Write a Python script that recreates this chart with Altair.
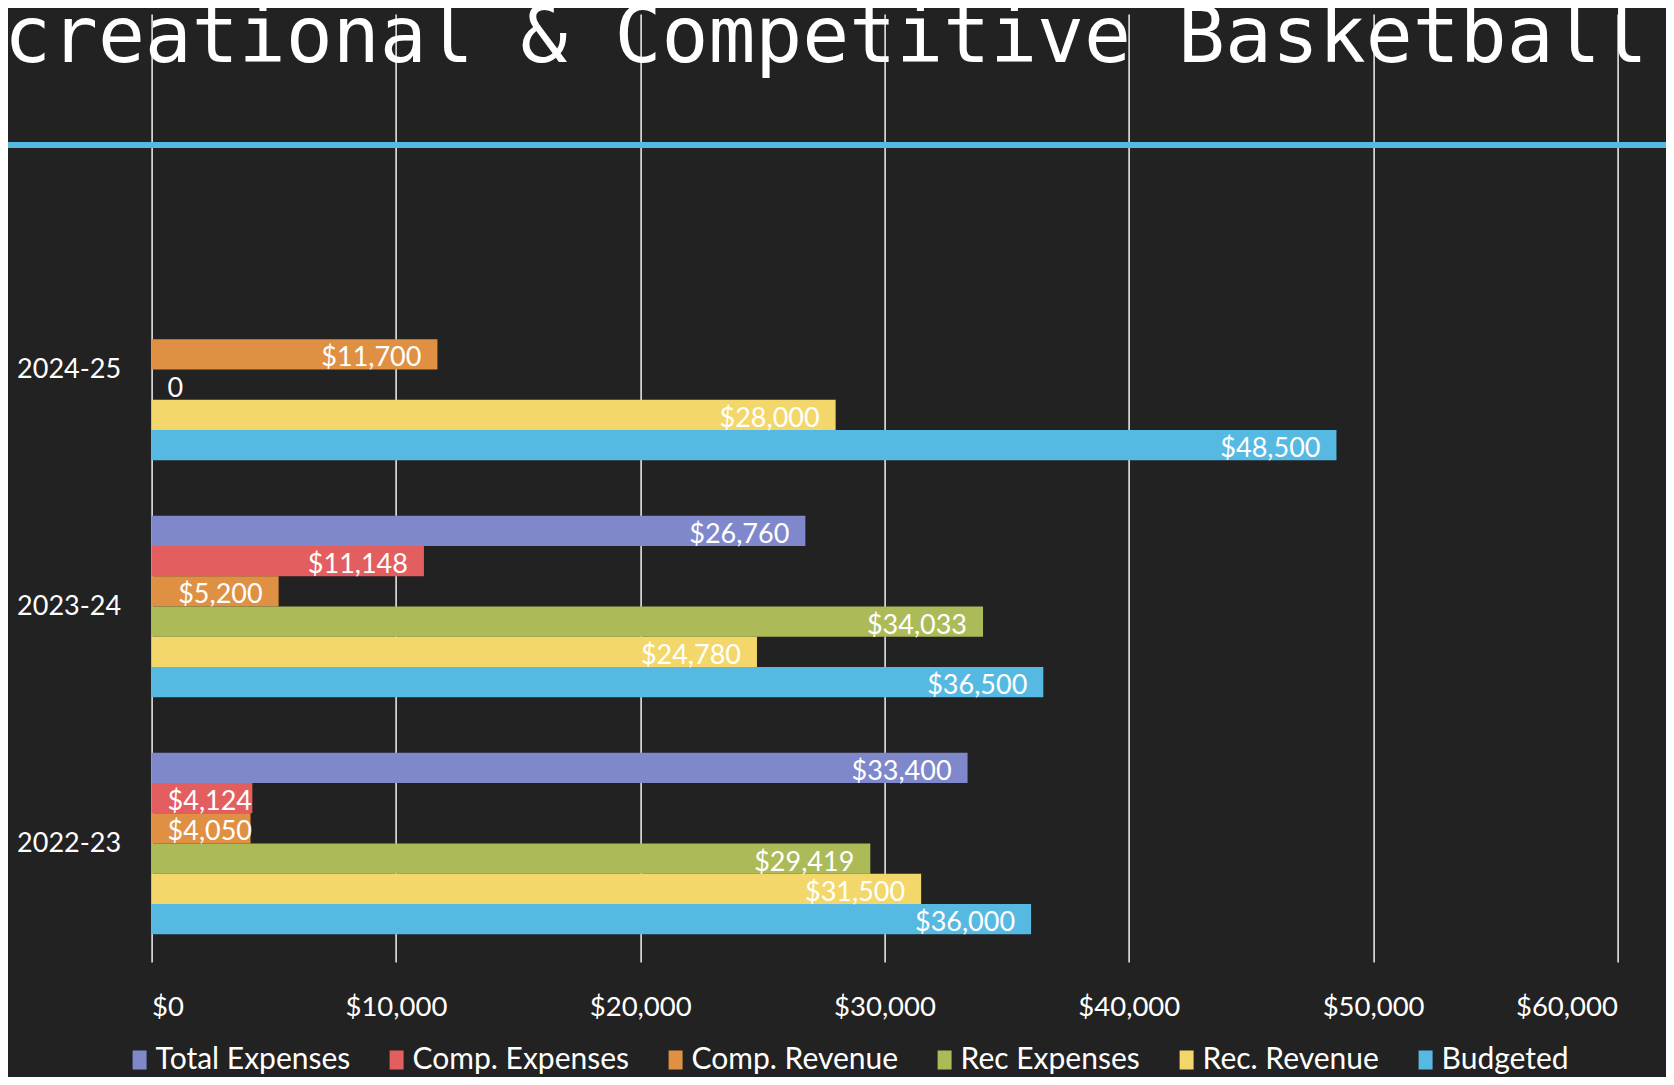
import altair as alt
import pandas as pd

# ---- data ----
years = ["2024-25", "2023-24", "2022-23"]
series = ["Total Expenses", "Comp. Expenses", "Comp. Revenue", "Rec Expenses", "Rec. Revenue", "Budgeted"]
colors = ["#8088CC", "#E35E5F", "#E09043", "#ACBA58", "#F3D76A", "#56B9E2"]
values_2024_25 = [None, None, 11700, 0, 28000, 48500]
values_2023_24 = [26760, 11148, 5200, 34033, 24780, 36500]
values_2022_23 = [33400, 4124, 4050, 29419, 31500, 36000]
x_ticks = [0, 10000, 20000, 30000, 40000, 50000, 60000]
title_text = "Recreational & Competitive Basketball"

rows = []
for yr, vals in zip(years, [values_2024_25, values_2023_24, values_2022_23]):
    for s, v in zip(series, vals):
        if v is None:
            continue
        label = "0" if v == 0 else "${:,.0f}".format(v)
        rows.append({"year": yr, "series": s, "value": v, "label": label,
                     "inside": v >= 5000})
df = pd.DataFrame(rows)

FONT = "Lato, 'Open Sans', sans-serif"
y_domain = [" "] + years

y_enc = alt.Y("year:N", scale=alt.Scale(domain=y_domain, paddingInner=0.234, paddingOuter=0.117),
              axis=alt.Axis(title=None, ticks=False, tickSize=0, domain=False, labelPadding=31,
                            labelFontSize=27, labelColor="white", labelFont=FONT))
yoff = alt.YOffset("series:N", scale=alt.Scale(domain=series, paddingInner=0, paddingOuter=0))
x_enc = alt.X("value:Q", scale=alt.Scale(domain=[0, 60000], nice=False),
              axis=alt.Axis(title=None, values=x_ticks, format="$,.0f", grid=True, gridColor="white",
                            gridWidth=1.4, gridOpacity=1, domain=False, ticks=False, tickSize=0,
                            labelPadding=31, labelFontSize=27.5, labelColor="white", labelFont=FONT))

base = alt.Chart(df)

bars = base.mark_bar(cornerRadius=0).encode(
    x=x_enc,
    y=y_enc,
    yOffset=yoff,
    color=alt.Color("series:N", scale=alt.Scale(domain=series, range=colors),
                    legend=alt.Legend(orient="none", legendX=-27, legendY=1031, direction="horizontal",
                                      title=None, columnPadding=31, labelOffset=1, labelLimit=0,
                                      symbolType="M-1,-1.36H1V1.36H-1Z", symbolSize=196,
                                      symbolStrokeWidth=0, symbolOpacity=1,
                                      labelFontSize=30, labelColor="white", labelFont=FONT)),
)

labels_in = base.transform_filter("datum.inside").mark_text(
    align="right", baseline="middle", dx=-16, dy=4, fontSize=27, color="white", font=FONT
).encode(x="value:Q", y="year:N", yOffset="series:N", text="label:N")

labels_left = base.transform_filter("!datum.inside").mark_text(
    align="left", baseline="middle", dx=16, dy=4, fontSize=27, color="white", font=FONT
).encode(x=alt.datum(0), y="year:N", yOffset="series:N", text="label:N")

title = alt.Chart(pd.DataFrame({"t": [title_text]})).mark_text(
    align="right", baseline="alphabetic", fontSize=78, color="white", font="DejaVu Sans Mono"
).encode(text="t:N", x=alt.value(1496), y=alt.value(48))

rule = alt.Chart(pd.DataFrame({"a": [0]})).mark_rule(
    color="#56B9E2", strokeWidth=6
).encode(x=alt.value(-160), x2=alt.value(1530), y=alt.value(131))

chart = alt.layer(bars, labels_in, labels_left, title, rule).properties(
    width=1465.8, height=948,
    padding={"left": 143.6, "top": 6, "right": 48.6, "bottom": 115},
    autosize=alt.AutoSizeParams(type="none"),
    background="#222222",
).configure_view(stroke=None)

chart.save("out.html", embed_options={"renderer": "svg", "actions": False})
